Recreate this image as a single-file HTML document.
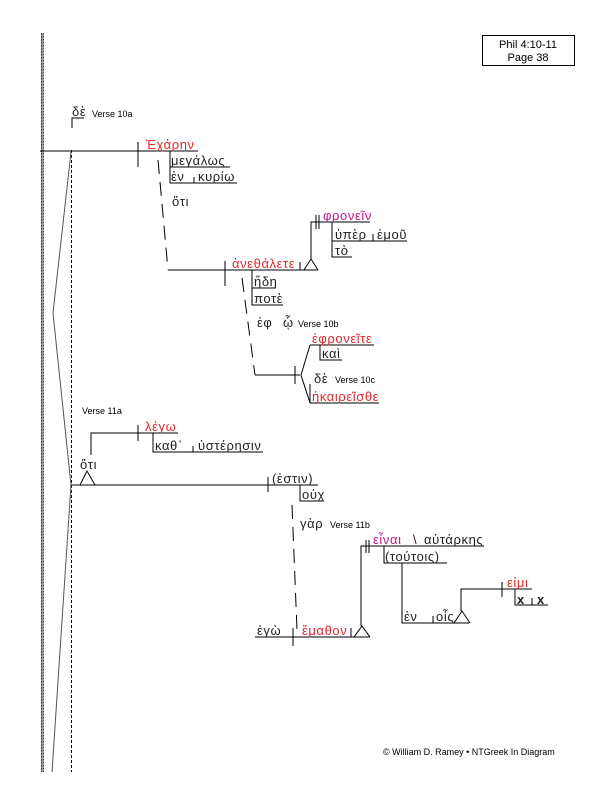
<!DOCTYPE html>
<html><head><meta charset="utf-8"><style>
html,body{margin:0;padding:0;background:#fff;}
svg{display:block;}
text{font-family:"Liberation Sans","DejaVu Sans",sans-serif;}
.g{font-size:13px;fill:#222;letter-spacing:0.6px;}
.r{font-size:13px;fill:#e8262b;letter-spacing:0.6px;}
.m{font-size:13px;fill:#c0168c;letter-spacing:0.6px;}
.v{font-size:9px;fill:#000;}
</style></head><body>
<svg width="610" height="787" viewBox="0 0 610 787" xmlns="http://www.w3.org/2000/svg">
<g>
<line x1="42.5" y1="33" x2="42.5" y2="772" stroke="#999" stroke-width="3"/>
<line x1="41.5" y1="33" x2="41.5" y2="772" stroke="#444" stroke-width="1" stroke-dasharray="2,1"/>
<line x1="43.5" y1="33" x2="43.5" y2="772" stroke="#444" stroke-width="1" stroke-dasharray="1,2"/>
</g>
<line x1="71.5" y1="150" x2="71.5" y2="772" stroke="#000" stroke-dasharray="3,2"/>
<polyline points="71,152 53,313 71,485 52,772" fill="none" stroke="#555" stroke-width="1"/>
<rect x="482.5" y="35.5" width="92" height="30" fill="none" stroke="#000"/>
<text x="528" y="48" font-size="11" text-anchor="middle">Phil 4:10-11</text>
<text x="528" y="61" font-size="11" text-anchor="middle">Page 38</text>
<g stroke="#000" stroke-width="1" fill="none">
<polyline points="72,128 72,118 84,118"/>
<line x1="40" y1="151" x2="198" y2="151"/>
<line x1="138" y1="142" x2="138" y2="167"/>
<polyline points="170,151 170,183 237,183"/>
<line x1="170" y1="167" x2="230" y2="167"/>
<line x1="194" y1="177" x2="194" y2="183"/>
<line x1="158" y1="160" x2="168" y2="270" stroke-dasharray="14,8"/>
<line x1="168" y1="270" x2="318" y2="270"/>
<line x1="225" y1="261" x2="225" y2="286"/>
<line x1="300" y1="262" x2="300" y2="270"/>
<polyline points="304,270 311,259 318,270"/>
<polyline points="311,259 311,222 370,222"/>
<line x1="316" y1="215" x2="316" y2="229"/>
<line x1="319" y1="215" x2="319" y2="229"/>
<polyline points="332,222 332,257 352,257"/>
<line x1="332" y1="241" x2="407" y2="241"/>
<line x1="373" y1="234" x2="373" y2="241"/>
<polyline points="252,270 252,305 283,305"/>
<line x1="252" y1="288" x2="276" y2="288"/>
<line x1="242" y1="278" x2="255" y2="375" stroke-dasharray="14,8"/>
<line x1="255" y1="375" x2="300" y2="375"/>
<line x1="295" y1="366" x2="295" y2="384"/>
<polyline points="310,345 301,375 310,403"/>
<line x1="310" y1="345" x2="374" y2="345"/>
<polyline points="320,345 320,360 342,360"/>
<line x1="310" y1="384" x2="310" y2="403"/>
<line x1="310" y1="403" x2="379" y2="403"/>
<polyline points="91,455 91,433 178,433"/>
<line x1="138" y1="425" x2="138" y2="441"/>
<polyline points="153,433 153,452 263,452"/>
<line x1="193" y1="446" x2="193" y2="452"/>
<polyline points="80,485 87,471 95,485"/>
<line x1="71" y1="485" x2="318" y2="485"/>
<line x1="268" y1="477" x2="268" y2="492"/>
<polyline points="300,485 300,501 324,501"/>
<line x1="292" y1="505" x2="297" y2="630" stroke-dasharray="14,8"/>
<line x1="255" y1="637" x2="370" y2="637"/>
<line x1="293" y1="628" x2="293" y2="646"/>
<line x1="351" y1="628" x2="351" y2="637"/>
<polyline points="354,637 362,626 370,637"/>
<polyline points="361,626 361,546 484,546"/>
<line x1="366" y1="540" x2="366" y2="553"/>
<line x1="369" y1="540" x2="369" y2="553"/>
<polyline points="384,546 384,563 447,563"/>
<polyline points="402,563 402,623 469,623"/>
<line x1="433" y1="616" x2="433" y2="623"/>
<polyline points="454,623 462,611 470,623"/>
<polyline points="461,611 461,589 532,589"/>
<line x1="502" y1="582" x2="502" y2="597"/>
<polyline points="515,589 515,605 548,605"/>
<line x1="532" y1="598" x2="532" y2="605"/>
</g>
<text class="g" x="72" y="116">δὲ</text><text class="v" x="92" y="117">Verse 10a</text>
<text class="r" x="146" y="149">Ἐχάρην</text>
<text class="g" x="171" y="165">μεγάλως</text>
<text class="g" x="171" y="181">ἐν</text><text class="g" x="198" y="181">κυρίῳ</text>
<text class="g" x="172" y="206">ὅτι</text>
<text class="r" x="232" y="268">ἀνεθάλετε</text>
<text class="m" x="323" y="220">φρονεῖν</text>
<text class="g" x="335" y="239">ὑπὲρ</text><text class="g" x="377" y="239">ἐμοῦ</text>
<text class="g" x="335" y="255">τὸ</text>
<text class="g" x="254" y="286">ἤδη</text>
<text class="g" x="254" y="303">ποτὲ</text>
<text class="g" x="257" y="327">ἐφ</text><text class="g" x="283" y="327">ᾧ</text><text class="v" x="298" y="327">Verse 10b</text>
<text class="r" x="312" y="343">ἐφρονεῖτε</text>
<text class="g" x="322" y="358">καὶ</text>
<text class="g" x="314" y="383">δὲ</text><text class="v" x="335" y="383">Verse 10c</text>
<text class="r" x="312" y="401">ἠκαιρεῖσθε</text>
<text class="v" x="82" y="414">Verse 11a</text>
<text class="r" x="145" y="431">λέγω</text>
<text class="g" x="155" y="450">καθ᾽</text><text class="g" x="198" y="450">ὑστέρησιν</text>
<text class="g" x="80" y="469">ὅτι</text>
<text class="g" x="272" y="483">(ἐστιν)</text>
<text class="g" x="302" y="499">οὐχ</text>
<text class="g" x="300" y="528">γὰρ</text><text class="v" x="330" y="528">Verse 11b</text>
<text class="g" x="257" y="635">ἐγὼ</text>
<text class="r" x="302" y="635">ἔμαθον</text>
<text class="m" x="373" y="544">εἶναι</text><text class="g" x="413" y="544">\</text><text class="g" x="424" y="544">αὐτάρκης</text>
<text class="g" x="385" y="561">(τούτοις)</text>
<text class="g" x="404" y="621">ἐν</text><text class="g" x="436" y="621">οἷς</text>
<text class="r" x="507" y="587">εἰμι</text>
<text class="g" x="517" y="604" font-weight="bold">x</text><text class="g" x="537" y="604" font-weight="bold">x</text>
<text x="383" y="755" font-size="9">© William D. Ramey • NTGreek In Diagram</text>
</svg>
</body></html>
